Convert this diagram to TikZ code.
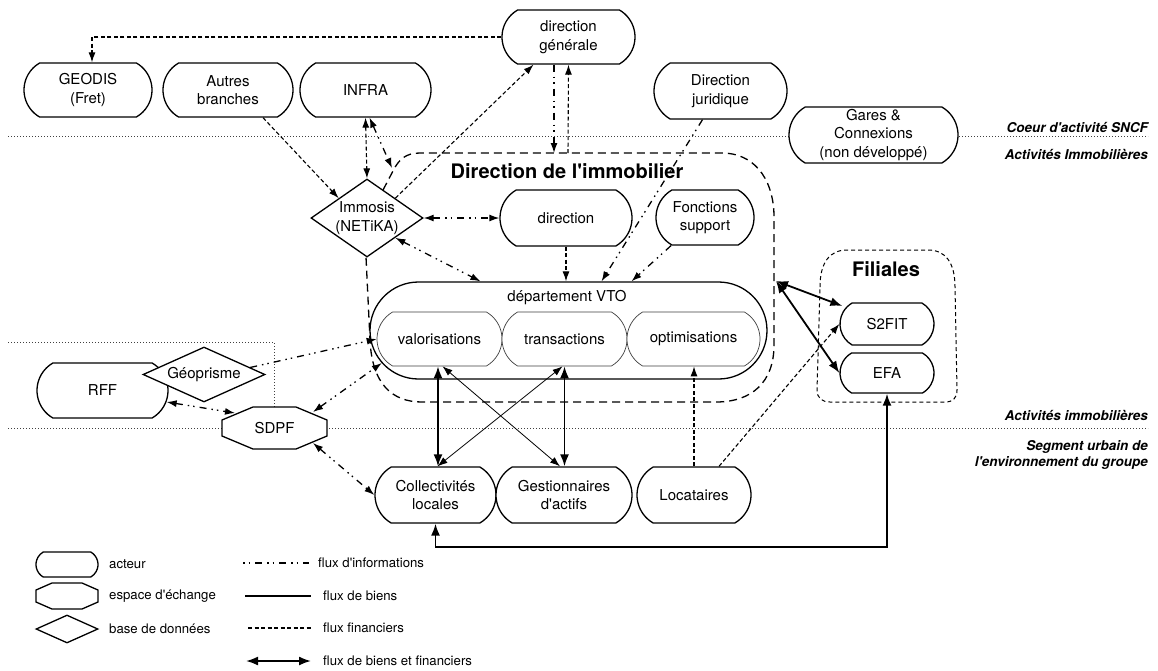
\documentclass[tikz,border=0pt]{standalone}
\usepackage{fontspec}
\setmainfont{TeX Gyre Heros}
\usetikzlibrary{shapes.misc,shapes.geometric,arrows.meta,calc}
\newcommand{\aq}{\textquotesingle}
\begin{document}
\begin{tikzpicture}[x=1pt,y=-1pt,
  >={Latex[length=10pt,width=7pt]},
  nf/.style={font=\fontsize{15}{18.5}\selectfont},
  acteur/.style={rounded rectangle, rounded rectangle arc length=120, draw, line width=1.3pt, fill=white, inner sep=0pt, align=center, nf},
  sub/.style={acteur, line width=0.7pt, draw=black!75},
  losange/.style={diamond, draw, line width=1.3pt, fill=white, inner sep=0pt},
  octo/.style={draw, line width=1.3pt, fill=white, line join=miter},
  txt/.style={inner sep=0pt, nf},
  info/.style={line width=1.3pt, dash pattern=on 7pt off 5pt on 1.5pt off 4pt on 1.5pt off 5pt},
  biens/.style={line width=0.8pt},
  fin/.style={line width=1.1pt, dash pattern=on 4pt off 2.5pt},
  both/.style={line width=1.8pt, {Latex[length=12pt,width=9pt]}-{Latex[length=12pt,width=9pt]}},
  zone/.style={line width=0.9pt, dash pattern=on 1pt off 2pt, black!75},
  region/.style={line width=1.3pt, dash pattern=on 8pt off 5pt},
  filreg/.style={line width=1pt, dash pattern=on 4pt off 3pt},
  titre/.style={font=\fontsize{20}{24}\selectfont\bfseries, inner sep=0pt},
  side/.style={font=\fontsize{13.5}{15.5}\selectfont\bfseries\itshape, anchor=east, align=right, inner sep=0pt},
  leg/.style={font=\fontsize{13.2}{15}\selectfont, anchor=west, inner sep=0pt},
]
\useasboundingbox (0,0) rectangle (1158,670);

% zones
\draw[zone] (8,136) -- (1148,136);
\draw[zone] (8,428) -- (1148,428);
\draw[zone] (8,342) -- (274,342) -- (274,407);

% Direction de l'immobilier region
\draw[region] (383,190) -- (393,171) .. controls (399,159) and (406,153) .. (420,153) -- (722,153) .. controls (752,153) and (773,176) .. (774,215) -- (774,345) .. controls (774,382) and (752,402) .. (716,402) -- (422,402) .. controls (392,402) and (372,384) .. (370,340) -- (366,257);

% Filiales region
\draw[filreg] (820,287) .. controls (820,262) and (830,250) .. (847,250) -- (928,250) .. controls (945,250) and (955,262) .. (955,287) -- (957,390) .. controls (957,398) and (953,402) .. (945,402) -- (830,402) .. controls (822,402) and (817,398) .. (817,390) -- cycle;

% nodes
\node[acteur, minimum width=133pt, minimum height=54pt] (dg) at (568.5,37) {direction\\générale};
\node[acteur, minimum width=128pt, minimum height=54pt] (geodis) at (88,90) {GEODIS\\(Fret)};
\node[acteur, minimum width=130pt, minimum height=54pt] (autres) at (228,90) {Autres\\branches};
\node[acteur, minimum width=131pt, minimum height=54pt] (infra) at (365.5,90) {INFRA};
\node[acteur, minimum width=133pt, minimum height=56pt] (dj) at (720.5,91) {Direction\\juridique};
\node[acteur, minimum width=169pt, minimum height=56pt] (gares) at (873.5,135) {Gares \&\\Connexions\\(non développé)};

\node[losange, minimum width=112pt, minimum height=78pt, label={[nf,align=center]center:Immosis\\(NETiKA)}] (imm) at (367,218) {};
\node[titre] (dimt) at (567,171) {Direction de l\aq immobilier};
\node[acteur, minimum width=132pt, minimum height=56pt] (dir) at (566,218) {direction};
\node[acteur, minimum width=98pt, minimum height=55pt] (fs) at (705,217.5) {Fonctions\\support};

\node[rounded rectangle, draw, line width=1.3pt, fill=white, minimum width=397pt, minimum height=97pt, inner sep=0pt] (vto) at (568.5,330.5) {};
\node[txt] (vtot) at (567,298) {département VTO};
\node[sub, minimum width=125pt, minimum height=54pt] (val) at (439.5,339) {valorisations};
\node[sub, minimum width=125pt, minimum height=54pt] (trans) at (564.5,339) {transactions};
\node[sub, minimum width=133pt, minimum height=54pt] (opt) at (693.5,339) {optimisations};

\node[titre] (filt) at (886,269) {Filiales};
\node[acteur, minimum width=94pt, minimum height=42pt] (s2) at (887,324) {S2FIT};
\node[acteur, minimum width=94pt, minimum height=40pt] (efa) at (887,373) {EFA};

\node[acteur, minimum width=131pt, minimum height=55pt] (rff) at (102.5,390.5) {RFF};
\node[losange, minimum width=122pt, minimum height=55pt, label={[nf]center:Géoprisme}] (geo) at (204,374.5) {};
\draw[octo] (253,407) -- (296,407) -- (327,420) -- (327,436) -- (296,449) -- (253,449) -- (222,436) -- (222,420) -- cycle;
\node[txt] (sdpf) at (274.5,428) {SDPF};

\node[acteur, minimum width=121pt, minimum height=56pt] (coll) at (435.5,495) {Collectivités\\locales};
\node[acteur, minimum width=136pt, minimum height=56pt] (gest) at (564,495) {Gestionnaires\\d\aq actifs};
\node[acteur, minimum width=114pt, minimum height=56pt] (loc) at (694,495) {Locataires};

% side labels
\node[side] (sl1) at (1148,127) {Coeur d\aq activité SNCF};
\node[side] (sl2) at (1148,154) {Activités Immobilières};
\node[side] (sl3) at (1148,415) {Activités immobilières};
\node[side] (sl4) at (1148,455) {Segment urbain de\\l\aq environnement du groupe};

% coordinates
\coordinate (rtl) at (392,168);
\coordinate (rt1) at (554,153);
\coordinate (rt2) at (568,153);
\coordinate (rr) at (776,281);
\coordinate (v1) at ([xshift=-1.5pt]val.south);

% connectors
\draw[fin,->] (dg.west) -| ([xshift=4pt]geodis.north);
\draw[fin,->] ([xshift=35pt]autres.south) -- (imm.north west);
\draw[fin,<->] (infra.south) -- (imm.north);
\draw[info,<->] ([xshift=4pt]infra.south) -- (rtl);
\draw[fin,->] (imm.north east) -- ([xshift=-35pt]dg.south);
\draw[info,->] ([xshift=-14.5pt]dg.south) -- (rt1);
\draw[fin,->] (rt2) -- (dg.south);
\draw[info,->] ([xshift=-18pt]dj.south) -- ([xshift=33pt]vto.north);
\draw[info,<->] (imm.east) -- (dir.west);
\draw[info,<->] (imm.south east) -- ([xshift=-88pt]vto.north);
\draw[fin,->] (dir.south) -- (dir.south |- vto.north);
\draw[info,->] ([xshift=-34pt]fs.south) -- ([xshift=63pt]vto.north);
\draw[info,->] ($(geo.north)!0.75!(geo.east)$) -- (val.west);
\draw[info,<->] ($(sdpf)+(38.5,-16)$) -- ($(vto.west)+(12.5,32.5)$);
\draw[info,<->] ($(rff.east)+(-2,11.5)$) -- ($(sdpf)+(-39.5,-15)$);
\draw[info,<->] ($(sdpf)+(38.5,15)$) -- (coll.west);
\draw[both] (v1) -- (v1 |- coll.north);
\draw[both] (trans.south) -- (trans.south |- gest.north);
\draw[biens,<->] ([xshift=3pt]val.south) -- ([xshift=-4pt]gest.north);
\draw[biens,<->] ([xshift=-2pt]trans.south) -- ([xshift=2pt]coll.north);
\draw[fin,->] (loc.north) -- (loc.north |- opt.south);
\draw[fin,->] ([xshift=25pt]loc.north) -- (s2.west);
\draw[both] (coll.south) -- ([yshift=-23pt]coll.south) -| (efa.south);
\draw[both] (rr) -- ([xshift=3pt,yshift=18pt]s2.west);
\draw[both] (rr) -- (efa.west);

% legend
\node[acteur, minimum width=62pt, minimum height=25pt] (la) at (67,564.5) {};
\draw[octo] (52,583) -- (82,583) -- (98,590) -- (98,602) -- (82,609) -- (52,609) -- (36,602) -- (36,590) -- cycle;
\node[losange, minimum width=62pt, minimum height=28pt] (ld) at (67,629) {};
\node[leg] (lt1) at (109,564) {acteur};
\node[leg] (lt2) at (109,596) {espace d\aq échange};
\node[leg] (lt3) at (109,629) {base de données};
\coordinate (l1a) at (243,563); \coordinate (l1b) at (309,563);
\coordinate (l2a) at (245,596); \coordinate (l2b) at (311,596);
\coordinate (l3a) at (248,628); \coordinate (l3b) at (311,628);
\coordinate (l4a) at (246,661); \coordinate (l4b) at (311,661);
\draw[info, dash phase=12pt] (l1a) -- (l1b);
\draw[biens, line width=1.1pt] (l2a) -- (l2b);
\draw[fin] (l3a) -- (l3b);
\draw[both] (l4a) -- (l4b);
\node[leg] (lt4) at (318,563) {flux d\aq informations};
\node[leg] (lt5) at (323,596) {flux de biens};
\node[leg] (lt6) at (323,628) {flux financiers};
\node[leg] (lt7) at (323,661) {flux de biens et financiers};
\end{tikzpicture}
\end{document}
